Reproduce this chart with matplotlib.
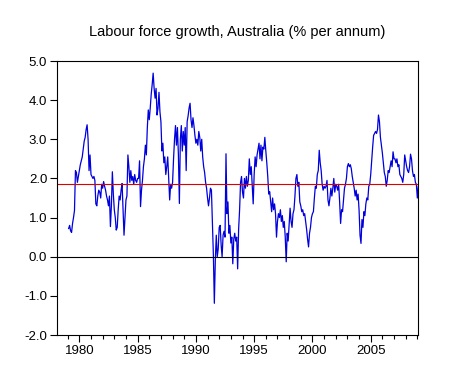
import numpy as np
import matplotlib
matplotlib.use('Agg')
import matplotlib.pyplot as plt
from matplotlib.ticker import MultipleLocator, FixedLocator

# monthly labour force growth, % per annum, from 1979M2
y1979 = [0.72, 0.80, 0.66, 0.62, 0.85, 1.00, 1.18, 2.20, 2.15, 1.90, 2.05, 2.20]
y1980 = [2.35, 2.45, 2.55, 2.75, 2.95, 3.05, 3.25, 3.37, 3.00, 2.20, 2.60, 2.10]
y1981 = [2.05, 2.00, 2.05, 1.95, 1.35, 1.30, 1.55, 1.70, 1.65, 1.50, 1.85, 1.75]
y1982 = [1.92, 1.80, 1.70, 1.55, 1.45, 1.30, 1.55, 0.77, 1.30, 2.17, 1.60, 1.20]
y1983 = [1.00, 0.68, 0.75, 1.20, 1.55, 1.45, 1.70, 1.87, 1.20, 0.55, 1.00, 1.45]
y1984 = [1.55, 2.60, 2.30, 1.90, 2.20, 1.95, 2.05, 1.85, 2.10, 1.95, 1.90, 2.00]
y1985 = [2.00, 2.45, 1.28, 1.70, 1.95, 2.30, 2.50, 2.85, 2.60, 3.30, 3.75, 3.50]
y1986 = [3.80, 4.15, 4.40, 4.69, 4.30, 4.05, 4.30, 3.62, 3.80, 4.20, 3.70, 3.45]
y1987 = [2.70, 2.90, 2.40, 2.55, 2.10, 2.30, 2.55, 2.00, 1.45, 1.85, 1.75, 1.90]
y1988 = [2.50, 3.00, 3.35, 2.85, 3.30, 2.60, 1.36, 3.00, 3.35, 2.70, 3.20, 2.85]
y1989 = [3.30, 2.20, 3.45, 3.60, 3.80, 3.92, 3.50, 3.30, 3.55, 3.35, 3.10, 2.90]
y1990 = [3.00, 2.85, 3.20, 3.05, 2.70, 3.00, 2.55, 2.30, 2.15, 1.90, 1.75, 1.50]
y1991 = [1.30, 1.50, 1.75, 1.70, 0.90, 0.05, -1.19, -0.10, 0.55, 0.00, 0.20, 0.75]
y1992 = [0.80, 0.30, 0.00, 0.55, 0.65, 0.50, 2.63, 1.10, 1.40, 0.60, 0.80, 0.35]
y1993 = [0.50, -0.18, 0.45, 0.60, 0.40, 0.50, -0.31, 0.70, 1.20, 1.90, 2.05, 1.65]
y1994 = [1.50, 2.00, 1.75, 2.05, 1.80, 1.95, 2.50, 2.10, 2.30, 1.85, 1.35, 2.10]
y1995 = [2.55, 2.30, 2.60, 2.75, 2.90, 2.50, 2.85, 2.45, 2.80, 2.75, 3.05, 2.70]
y1996 = [2.40, 2.05, 1.60, 1.66, 1.40, 1.15, 1.50, 1.20, 1.35, 1.10, 0.50, 0.90]
y1997 = [1.10, 1.00, 1.20, 0.90, 1.05, 0.75, 0.90, 0.50, -0.13, 0.60, 0.40, 0.80]
y1998 = [1.24, 0.90, 0.75, 1.10, 1.20, 1.55, 2.00, 2.10, 1.80, 1.90, 1.40, 1.30]
y1999 = [1.15, 1.20, 1.05, 1.10, 0.90, 0.70, 0.45, 0.25, 0.60, 0.75, 1.00, 1.10]
y2000 = [1.15, 1.50, 1.80, 1.75, 2.10, 2.20, 2.72, 2.40, 2.20, 1.85, 1.70, 1.80]
y2001 = [1.75, 1.80, 1.95, 1.45, 1.30, 1.50, 1.75, 1.55, 1.75, 2.00, 1.65, 1.85]
y2002 = [1.80, 1.70, 1.85, 1.40, 0.85, 1.20, 1.15, 1.45, 1.75, 1.85, 2.00, 2.30]
y2003 = [2.38, 2.30, 2.35, 2.25, 2.05, 1.90, 1.75, 1.55, 1.70, 1.45, 1.60, 1.20]
y2004 = [0.55, 0.34, 0.95, 0.75, 1.15, 1.05, 1.35, 1.50, 1.45, 1.80, 1.85, 2.10]
y2005 = [2.45, 2.80, 3.10, 3.15, 3.20, 3.15, 3.25, 3.62, 3.45, 3.05, 2.85, 2.65]
y2006 = [2.40, 2.15, 2.05, 1.80, 1.95, 2.20, 2.15, 2.30, 2.45, 2.30, 2.68, 2.50]
y2007 = [2.50, 2.40, 2.50, 2.30, 2.35, 2.10, 2.05, 2.00, 1.90, 2.10, 2.60, 2.45]
y2008 = [2.30, 2.20, 2.15, 2.30, 2.62, 2.50, 2.20, 2.05, 2.10, 1.90, 1.85, 1.50]
y2009 = [1.80]

growth = (y1979 + y1980 + y1981 + y1982 + y1983 + y1984 + y1985 + y1986 +
          y1987 + y1988 + y1989 + y1990 + y1991 + y1992 + y1993 + y1994 +
          y1995 + y1996 + y1997 + y1998 + y1999 + y2000 + y2001 + y2002 +
          y2003 + y2004 + y2005 + y2006 + y2007 + y2008 + y2009)
start = 1979 + 1 / 12
dates = start + np.arange(len(growth)) / 12

mean_growth = 1.85
year_ticks = [1980, 1985, 1990, 1995, 2000, 2005]
title = 'Labour force growth, Australia (% per annum)'

plt.rcParams['font.family'] = ['Liberation Sans', 'DejaVu Sans']

fig = plt.figure(figsize=(4.56, 3.79), dpi=100)
ax = fig.add_axes([57 / 456, 1 - 335 / 379, (418.3 - 57) / 456, (335 - 61) / 379])

ax.plot(dates, growth, color='#0000dd', lw=0.9)
ax.axhline(mean_growth, color='#dd0000', lw=0.8)
ax.axhline(0, color='black', lw=0.8)

ax.set_xlim(1978 + 1 / 12, dates[-1])
ax.set_ylim(-2.0, 5.0)
ax.yaxis.set_major_locator(MultipleLocator(1.0))
ax.set_yticklabels(['%.1f' % v for v in ax.get_yticks()])
ax.xaxis.set_major_locator(FixedLocator(year_ticks))
ax.xaxis.set_minor_locator(FixedLocator(range(1979, 2010)))
ax.tick_params(axis='both', which='major', direction='out', length=5, width=0.8,
               labelsize=9.5, pad=2, top=False, right=False)
ax.tick_params(axis='x', which='minor', direction='out', length=3, width=0.8)
for s in ax.spines.values():
    s.set_linewidth(0.8)

fig.text(237 / 456, 1 - 32 / 379, title, ha='center', va='center', fontsize=10.5)

plt.savefig('out.png', dpi=100)
